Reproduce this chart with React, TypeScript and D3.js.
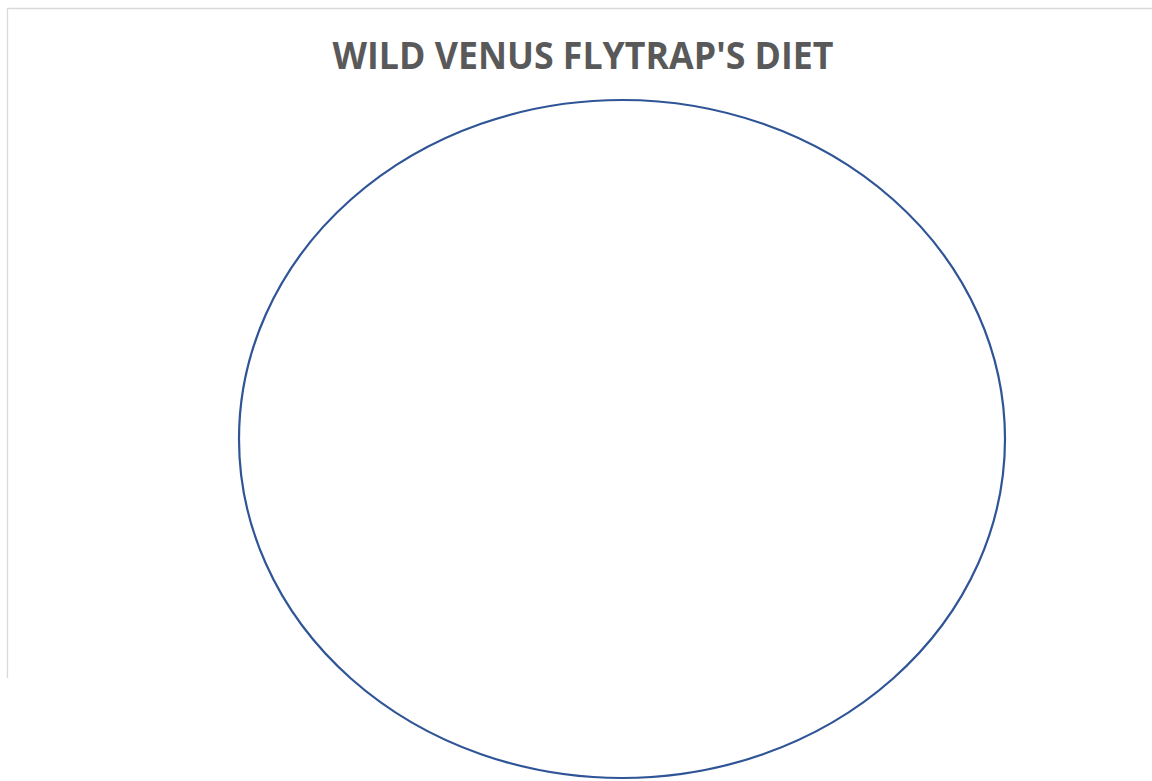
import React from 'react';
import { arc, pie, scaleOrdinal } from 'd3';

const categories = ['Insects'];
const values = [100];
const title = "WILD VENUS FLYTRAP'S DIET";

const W = 1152;
const H = 781;

const App = () => {
  // ellipse bounds
  const cx = 622;
  const cy = 439;
  const rx = 383;
  const ry = 339;

  const slices = pie<number>()
    .value((d) => d)
    .sort(null)(values);

  // unit circle, stretched into an ellipse with a transform
  const arcGen = arc<any>().innerRadius(0).outerRadius(1);

  const color = scaleOrdinal<string, string>().domain(categories).range(['#ffffff']);

  return (
    <svg
      width={W}
      height={H}
      style={{ position: 'absolute', left: 0, top: 0, background: '#fff' }}
    >
      {/* chart frame (clipped on the right and bottom) */}
      <line x1={8} y1={8.5} x2={W} y2={8.5} stroke="#d9d9d9" strokeWidth={1.3} />
      <line x1={7.5} y1={8} x2={7.5} y2={678} stroke="#d9d9d9" strokeWidth={1.3} />

      <text
        x={583}
        y={69}
        textAnchor="middle"
        fontFamily="'Open Sans', Lato, sans-serif"
        fontWeight={700}
        fontSize={37}
        fill="#595959"
        textLength={501}
        lengthAdjust="spacingAndGlyphs"
      >
        {title}
      </text>

      <g transform={`translate(${cx},${cy}) scale(${rx},${ry})`}>
        {slices.map((s, i) => (
          <path
            key={i}
            d={arcGen(s) || ''}
            fill={color(categories[i])}
            stroke="#2f5597"
            strokeWidth={2.2}
            vectorEffect="non-scaling-stroke"
          />
        ))}
      </g>
    </svg>
  );
};

export default App;
